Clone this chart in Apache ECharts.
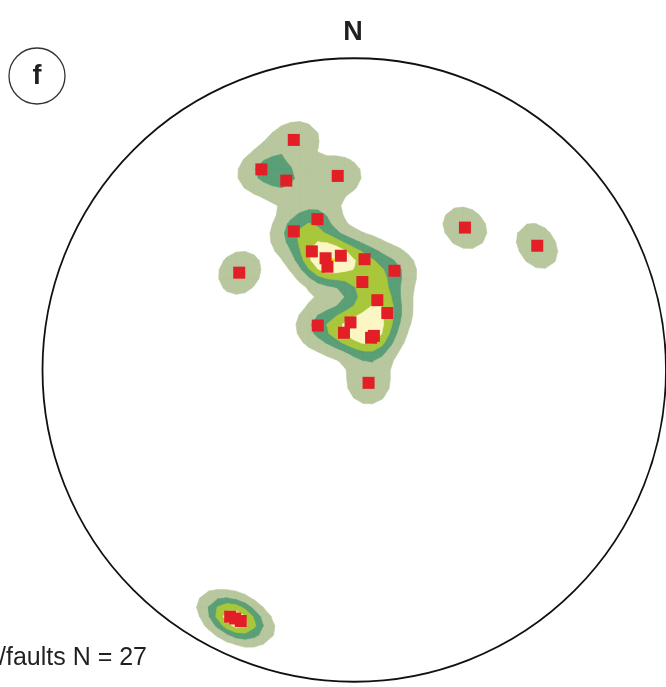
<!DOCTYPE html>
<html><head><meta charset="utf-8">
<script src="https://cdn.jsdelivr.net/npm/echarts@6/dist/echarts.min.js"></script>
<style>html,body{margin:0;padding:0;background:#fff}#c{width:666px;height:687px}</style>
</head><body><div id="c"></div>
<script>
// Pole positions in equal-area projection units (unit circle, x east, y north)
const poleX = [-0.194,-0.298,-0.218,-0.053,-0.118,-0.194,-0.369,-0.136,-0.092,-0.086,-0.043,0.033,0.129,0.026,0.074,0.106,-0.117,-0.012,-0.033,0.054,0.063,0.046,0.355,0.587,-0.398,-0.364,-0.382];
const poleY = [0.735,0.641,0.605,0.620,0.482,0.443,0.311,0.379,0.357,0.330,0.365,0.354,0.317,0.281,0.223,0.182,0.142,0.152,0.119,0.103,0.109,-0.041,0.455,0.397,-0.788,-0.802,-0.794];
const contourLevels = [0.42, 1.08, 1.7, 2.35, 3.15];
const kernelAngle = 0.0723; // radians, smoothing on the sphere
const northLabel = 'N';
const panelLabel = 'f';
const countLabel = '/faults N = 27';

const levelColors = ['#b8c79d','#5b9f77','#a9c73a','#fcf6c4','#f3e300'];

// equal-area projection -> unit vector on the sphere
function toVec(x, y){
  const r = Math.sqrt(x*x+y*y);
  if (r > 1) return null;
  const th = 2*Math.asin(r/Math.SQRT2), ph = Math.atan2(y, x);
  return [Math.sin(th)*Math.cos(ph), Math.sin(th)*Math.sin(ph), Math.cos(th)];
}
const poleVecs = poleX.map((x,i)=>toVec(x, poleY[i]));
const kappa = 1/(kernelAngle*kernelAngle);

// density grid
const G = 72, lo = -1.05, hi = 1.05, h = (hi-lo)/G;
const vals = [];
for (let j=0;j<=G;j++){ const row=[]; for(let i=0;i<=G;i++){
  const v = toVec(lo+i*h, lo+j*h); let s=0;
  if (v) for(const p of poleVecs){const c=Math.abs(v[0]*p[0]+v[1]*p[1]+v[2]*p[2]); s+=Math.exp(kappa*(c-1));}
  row.push(s);} vals.push(row);}
function cellPoly(x0,y0,v,L){
  const cx=[x0,x0+h,x0+h,x0], cy=[y0,y0,y0+h,y0+h]; const out=[];
  for(let i=0;i<4;i++){const j=(i+1)%4; const a=v[i]>=L, b=v[j]>=L;
    if(a) out.push([cx[i],cy[i]]);
    if(a!==b){const t=(L-v[i])/(v[j]-v[i]); out.push([cx[i]+t*(cx[j]-cx[i]), cy[i]+t*(cy[j]-cy[i])]);}
  }
  return out;
}
const levelPolys = contourLevels.map(L=>{
  const polys=[];
  for(let j=0;j<G;j++) for(let i=0;i<G;i++){
    const v=[vals[j][i],vals[j][i+1],vals[j+1][i+1],vals[j+1][i]];
    if (v[0]<L&&v[1]<L&&v[2]<L&&v[3]<L) continue;
    polys.push(cellPoly(lo+i*h, lo+j*h, v, L));
  }
  return polys;
});

const chart = echarts.init(document.getElementById('c'), null, {renderer:'canvas'});
chart.setOption({
  animation:false,
  grid:{left:42.5, top:57, width:626, height:626},
  xAxis:{type:'value', min:-1, max:1, show:false},
  yAxis:{type:'value', min:-1, max:1, show:false},
  series:[
    {type:'custom', coordinateSystem:'cartesian2d', silent:true, z:1,
     data: contourLevels.map((L,i)=>[i,0]),
     encode:{x:0,y:1},
     renderItem:(params, api)=>{
       const idx = api.value(0);
       let d='';
       for(const p of levelPolys[idx]){
         p.forEach((q,n)=>{const c=api.coord(q); d+=(n?'L':'M')+c[0].toFixed(2)+' '+c[1].toFixed(2);});
         d+='Z';
       }
       return {type:'path', shape:{pathData:d}, style:{fill:levelColors[idx], stroke:levelColors[idx], lineWidth:0.6}};
     }},
    {type:'custom', coordinateSystem:'cartesian2d', silent:true, z:2,
     data:[[0,0]], encode:{x:0,y:1},
     renderItem:(params, api)=>{
       const c=api.coord([0,0]); const s=api.size([1,1]);
       return {type:'circle', shape:{cx:c[0], cy:c[1], r:s[0]}, style:{fill:null, stroke:'#111', lineWidth:1.8}};
     }},
    {type:'scatter', z:3, silent:true, symbol:'rect', symbolSize:12,
     itemStyle:{color:'#e21f26', opacity:1},
     data: poleX.map((x,i)=>[x, poleY[i]])}
  ],
  graphic:[
    {type:'text', x:353, y:33, style:{text:northLabel, font:'bold 27px "Liberation Sans", Arial, sans-serif', fill:'#231f20', textAlign:'center', textVerticalAlign:'middle'}},
    {type:'circle', shape:{cx:37, cy:76, r:28}, style:{fill:'#fff', stroke:'#333', lineWidth:1.3}},
    {type:'text', x:37, y:77, style:{text:panelLabel, font:'bold 27px "Liberation Sans", Arial, sans-serif', fill:'#231f20', textAlign:'center', textVerticalAlign:'middle'}},
    {type:'text', x:147, y:658, style:{text:countLabel, font:'25px "Liberation Sans", Arial, sans-serif', fill:'#231f20', textAlign:'right', textVerticalAlign:'middle'}}
  ]
});
</script></body></html>
